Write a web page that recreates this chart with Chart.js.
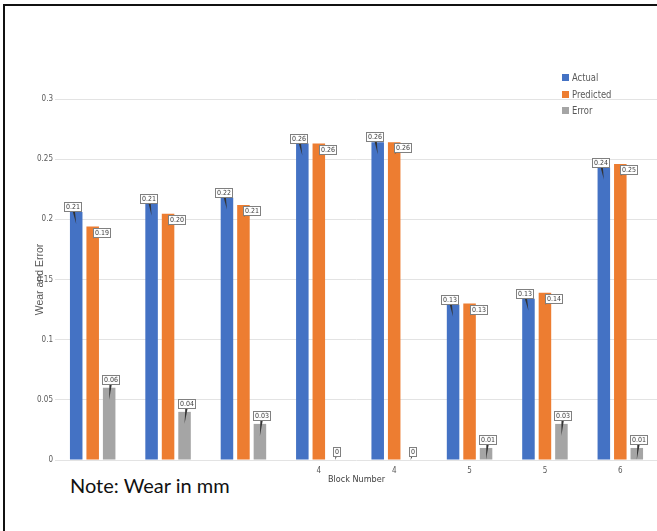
<!DOCTYPE html>
<html>
<head>
<meta charset="utf-8">
<title>Wear and Error by Block</title>
<script src="https://cdn.jsdelivr.net/npm/chart.js@4.4.1/dist/chart.umd.min.js"></script>
<style>
  html, body { margin: 0; padding: 0; background: #fff; overflow: hidden; }
  #wrap { position: relative; width: 657px; height: 531px; overflow: hidden; }
  #chartWear { position: absolute; left: 0; top: 0; }
  #frame { position: absolute; left: 3px; top: 4px; right: -10px; bottom: -10px;
           border-left: 2px solid #111; border-top: 2px solid #111; pointer-events: none; }
  #legend { position: absolute; left: 562px; top: 71px;
            font: 11px 'Liberation Sans Narrow', 'Arial Narrow', 'DejaVu Sans Condensed', sans-serif; color: #595959; }
  #legend div { height: 16.5px; line-height: 14px; white-space: nowrap; }
  #legend i { display: inline-block; width: 7px; height: 7px; margin-right: 3px; vertical-align: 0px; }
  #legend span { display: inline-block; transform: scaleX(0.85); transform-origin: left center; }
  #note { position: absolute; left: 50px; top: 462px; width: 243px; height: 69px; background: #fff; }
  #note span { position: absolute; left: 20px; top: 11px; font: 20px Lato, 'Open Sans', sans-serif; color: #111; white-space: nowrap; }
</style>
</head>
<body>
<div id="wrap">
  <canvas id="chartWear" width="670" height="531"></canvas>
  <div id="legend"></div>
  <div id="note"><span>Note: Wear in mm</span></div>
  <div id="frame"></div>
</div>
<script>
// block numbers and measured / predicted wear per block
const blockLabels = ['1', '2', '3', '4', '4', '5', '5', '6'];
const actualWear = [0.206, 0.213, 0.218, 0.263, 0.264, 0.129, 0.134, 0.243];
const predictedWear = [0.194, 0.2047, 0.212, 0.263, 0.264, 0.13, 0.139, 0.246];
const wearError = [0.06, 0.04, 0.03, 0, 0, 0.01, 0.03, 0.01];
const yTicks = [0, 0.05, 0.1, 0.15, 0.2, 0.25, 0.3];

var NARROW = "'Liberation Sans Narrow', 'Arial Narrow', 'DejaVu Sans Condensed', sans-serif";

function fmtValue(v) {
    return v === 0 ? '0' : v.toFixed(2);
}

// little boxed value labels with a pointer into each bar
var calloutPlugin = {
    id: 'callouts',
    afterDatasetsDraw: function (chart, args, opts) {
        var ctx = chart.ctx;
        ctx.save();
        ctx.font = opts.font;
        ctx.textAlign = 'center';
        ctx.textBaseline = 'middle';
        chart.data.datasets.forEach(function (ds, i) {
            var meta = chart.getDatasetMeta(i);
            var off = opts.offsets[i];
            meta.data.forEach(function (bar, j) {
                var text = fmtValue(ds.data[j]);
                var w = Math.round(ctx.measureText(text).width) + 4;
                var h = 10;
                var cx = Math.round(bar.x + off[0]), cy = Math.round(bar.y + off[1]);
                var tipY = Math.min(bar.y + 12, bar.base);
                ctx.fillStyle = '#333';
                ctx.beginPath();
                ctx.moveTo(cx - 1.5, cy);
                ctx.lineTo(cx + 1.5, cy);
                ctx.lineTo(bar.x, tipY);
                ctx.closePath();
                ctx.fill();
                ctx.fillStyle = '#fff';
                ctx.fillRect(cx - w / 2, cy - h / 2, w, h);
                ctx.strokeStyle = '#808080';
                ctx.lineWidth = 1;
                ctx.strokeRect(cx - w / 2 + 0.5, cy - h / 2 + 0.5, w - 1, h - 1);
                ctx.fillStyle = '#404040';
                ctx.fillText(text, cx, cy + 0.5);
            });
        });
        ctx.restore();
    }
};

var ctx = document.getElementById('chartWear').getContext('2d');

var myChart = new Chart(ctx, {
    type: 'bar',
    data: {
        labels: blockLabels,
        datasets: [
            { label: 'Actual', data: actualWear, backgroundColor: '#4472C4' },
            { label: 'Predicted', data: predictedWear, backgroundColor: '#ED7D31' },
            { label: 'Error', data: wearError, backgroundColor: '#A5A5A5' }
        ]
    },
    options: {
        responsive: false,
        animation: false,
        devicePixelRatio: 1,
        categoryPercentage: 0.656,
        barPercentage: 0.76,
        layout: { padding: { left: 5, right: 12, top: 99, bottom: 41 } },
        plugins: {
            legend: { display: false },
            tooltip: { enabled: false },
            callouts: {
                font: '7px ' + NARROW,
                offsets: [[-3, -5], [9, 6], [2, -8]]
            }
        },
        scales: {
            x: {
                grid: { display: false, drawTicks: false },
                border: { display: false },
                ticks: { color: '#595959', padding: 6, font: { family: NARROW, size: 8 } },
                title: {
                    display: true,
                    text: 'Block Number',
                    color: '#404040',
                    font: { family: NARROW, size: 9 },
                    padding: { top: 0, bottom: 4.6 }
                },
                afterFit: function (axis) { axis.height = 30; }
            },
            y: {
                min: 0,
                max: 0.3,
                afterBuildTicks: function (axis) {
                    axis.ticks = yTicks.map(function (v) { return { value: v }; });
                },
                grid: { color: '#e3e3e3', drawTicks: false },
                border: { display: false },
                ticks: {
                    color: '#595959',
                    padding: 2,
                    font: { family: NARROW, size: 8 },
                    callback: function (v) { return String(v); }
                },
                title: {
                    display: true,
                    text: 'Wear and Error',
                    color: '#595959',
                    font: { family: "'Liberation Sans', Arial, sans-serif", size: 10.5 },
                    padding: { top: 28.7, bottom: 0 }
                },
                afterFit: function (axis) { axis.width = 50; }
            }
        }
    },
    plugins: [calloutPlugin]
});

// legend list built from the datasets
var legendBox = document.getElementById('legend');
myChart.data.datasets.forEach(function (ds) {
    var row = document.createElement('div');
    var swatch = document.createElement('i');
    var text = document.createElement('span');
    swatch.style.background = ds.backgroundColor;
    text.textContent = ds.label;
    row.appendChild(swatch);
    row.appendChild(text);
    legendBox.appendChild(row);
});
</script>
</body>
</html>
